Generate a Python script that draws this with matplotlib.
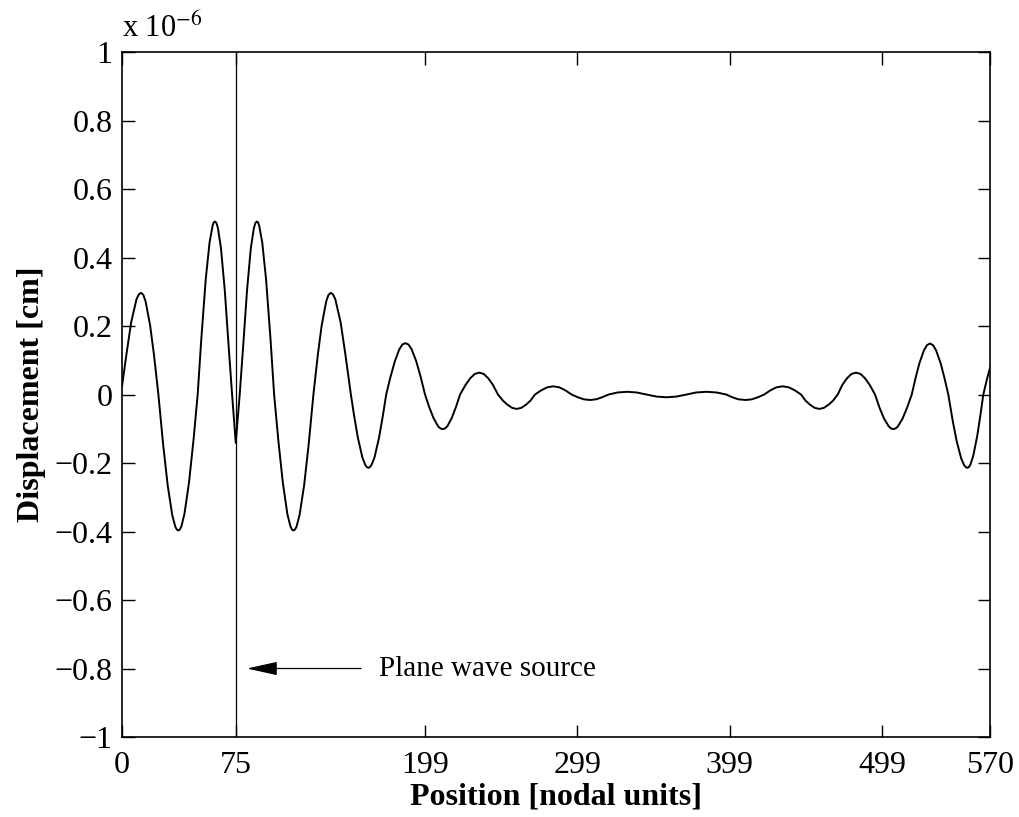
import matplotlib
matplotlib.use("Agg")
import matplotlib.pyplot as plt

plt.rcParams['font.family'] = ['Liberation Serif', 'DejaVu Serif']
plt.rcParams['mathtext.fontset'] = 'stix'

# displacement, units of 1e-6 cm
pos = [0, 3, 6, 9.5, 11, 12.5, 14, 15.5, 18.5, 21, 23.9,
       27, 30, 33, 35, 36, 37, 38, 39, 41, 44, 47, 49.7,
       52, 55, 57.5, 59.5, 60.3, 61.1, 62, 63, 65, 67.5, 70, 72.3, 74.7,
       77.3, 79.6, 82.1, 84.6, 86.6, 87.6, 88.5, 89.3, 90.1, 92.1, 94.6, 97.6, 99.9,
       102.6, 105.6, 108.6, 110.6, 111.6, 112.6, 113.6, 114.6, 116.6, 119.6, 122.6, 125.7,
       128.6, 131.1, 134.1, 135.6, 137.1, 138.6, 140.1, 143.6, 146.6, 150.3,
       152.3, 154.8, 157.8, 159.8, 160.8, 161.8, 162.8, 163.8, 165.8, 168.8, 171.3, 173.5,
       176.1, 179.1, 182.1, 184.1, 186.1, 188.1, 190.1, 193.1, 196.1, 199,
       201.6, 204.6, 207.6, 209.1, 210.6, 212.1, 213.6, 216.6, 219.4, 222,
       225.6, 228.6, 231.6, 234.6, 237.6, 240.6, 243.6, 246.9,
       250.2, 253.2, 256.2, 259.2, 262.2, 265.2, 268.2, 271.2,
       275.2, 279.2, 283.2, 287.2, 291.2, 295.3,
       299.3, 303.3, 307.3, 311.3, 315.3, 319.5,
       325.5, 331.8, 338, 344.5,
       351, 357.5, 364, 370.7,
       377, 384, 390.5, 396.8,
       400.8, 404.8, 409.6, 413.6, 417.6, 421.7,
       425.7, 429.7, 433.9, 437.9, 441.9, 445.9,
       448.9, 451.9, 454.9, 457.9, 460.9, 463.9, 466.9, 470,
       473, 476, 479, 482, 485, 488, 491, 494.5,
       497.5, 500.5, 503.5, 505, 506.5, 508, 509.5, 512.5, 515.5, 518.6,
       521.1, 523.6, 526.6, 528.6, 530.6, 532.6, 534.6, 537.6, 540.1, 542.6,
       545.6, 548.1, 551.1, 553.1, 554.1, 555.1, 556.1, 557.1, 559.1, 561.6, 563.6, 565.6,
       568, 570]
disp = [0.024, 0.12, 0.21, 0.278, 0.292, 0.297, 0.291, 0.272, 0.201, 0.116, 0,
        -0.145, -0.265, -0.352, -0.386, -0.394, -0.397, -0.394, -0.385, -0.349, -0.257, -0.131, 0,
        0.157, 0.337, 0.444, 0.493, 0.503, 0.505, 0.501, 0.486, 0.427, 0.304, 0.143, 0, -0.141,
        0, 0.143, 0.304, 0.427, 0.486, 0.501, 0.505, 0.503, 0.493, 0.444, 0.337, 0.157, 0,
        -0.131, -0.257, -0.349, -0.385, -0.394, -0.397, -0.394, -0.386, -0.352, -0.265, -0.145, 0,
        0.116, 0.201, 0.272, 0.291, 0.297, 0.292, 0.278, 0.21, 0.12, 0,
        -0.058, -0.124, -0.183, -0.206, -0.212, -0.214, -0.212, -0.206, -0.184, -0.126, -0.062, 0,
        0.048, 0.096, 0.132, 0.146, 0.15, 0.146, 0.133, 0.099, 0.052, 0,
        -0.035, -0.069, -0.093, -0.099, -0.101, -0.099, -0.093, -0.068, -0.035, 0,
        0.028, 0.047, 0.06, 0.064, 0.06, 0.047, 0.028, 0,
        -0.018, -0.03, -0.039, -0.042, -0.039, -0.03, -0.018, 0,
        0.012, 0.021, 0.024, 0.021, 0.012, 0,
        -0.008, -0.014, -0.016, -0.014, -0.008, 0,
        0.006, 0.008, 0.006, 0,
        -0.006, -0.008, -0.006, 0,
        0.006, 0.008, 0.006, 0,
        -0.008, -0.014, -0.016, -0.014, -0.008, 0,
        0.012, 0.021, 0.024, 0.021, 0.012, 0,
        -0.018, -0.03, -0.039, -0.042, -0.039, -0.03, -0.018, 0,
        0.028, 0.047, 0.06, 0.064, 0.06, 0.047, 0.028, 0,
        -0.039, -0.071, -0.093, -0.099, -0.101, -0.099, -0.093, -0.071, -0.039, 0,
        0.048, 0.091, 0.129, 0.144, 0.149, 0.144, 0.129, 0.091, 0.048, 0,
        -0.079, -0.136, -0.187, -0.207, -0.212, -0.214, -0.212, -0.205, -0.177, -0.121, -0.063, 0,
        0.045, 0.078]

source_pos = 75
xticks = [0, 75, 199, 299, 399, 499, 570]
yticks = [-1, -0.8, -0.6, -0.4, -0.2, 0, 0.2, 0.4, 0.6, 0.8, 1]
ytick_labels = ['\u22121', '\u22120.8', '\u22120.6', '\u22120.4', '\u22120.2',
                '0', '0.2', '0.4', '0.6', '0.8', '1']

fig = plt.figure(figsize=(10.2, 8.17), dpi=100)
ax = fig.add_axes([0.1196, 0.0979, 0.851, 0.8384])

ax.plot(pos, disp, color='black', linewidth=1.4)
ax.axvline(source_pos, color='black', linewidth=0.9)

# arrow pointing at the source line
ax.annotate('', xy=(82, -0.8), xytext=(157, -0.8),
            arrowprops=dict(arrowstyle='-|>,head_length=1.9,head_width=0.42',
                            color='black', linewidth=0.9, shrinkA=0, shrinkB=0))
ax.text(169, -0.8, 'Plane wave source', fontsize=21, va='center', ha='left')

ax.set_xlim(0, 570)
ax.set_ylim(-1, 1)
ax.set_xticks(xticks)
ax.set_xticklabels([str(t) for t in xticks])
ax.set_yticks(yticks)
ax.set_yticklabels(ytick_labels)
ax.tick_params(direction='in', length=9, width=1, top=True, right=True,
               labelsize=23)
ax.tick_params(axis='x', pad=10)
ax.tick_params(axis='y', pad=7)
for sp in ax.spines.values():
    sp.set_linewidth(1.2)

ax.text(0, 1.012, 'x 10$^{-6}$', transform=ax.transAxes, fontsize=22,
        ha='left', va='bottom')
ax.set_xlabel('Position [nodal units]', fontsize=23, fontweight='bold', labelpad=2)
ax.set_ylabel('Displacement [cm]', fontsize=23, fontweight='bold', labelpad=6)

plt.savefig('out.png', dpi=100)
